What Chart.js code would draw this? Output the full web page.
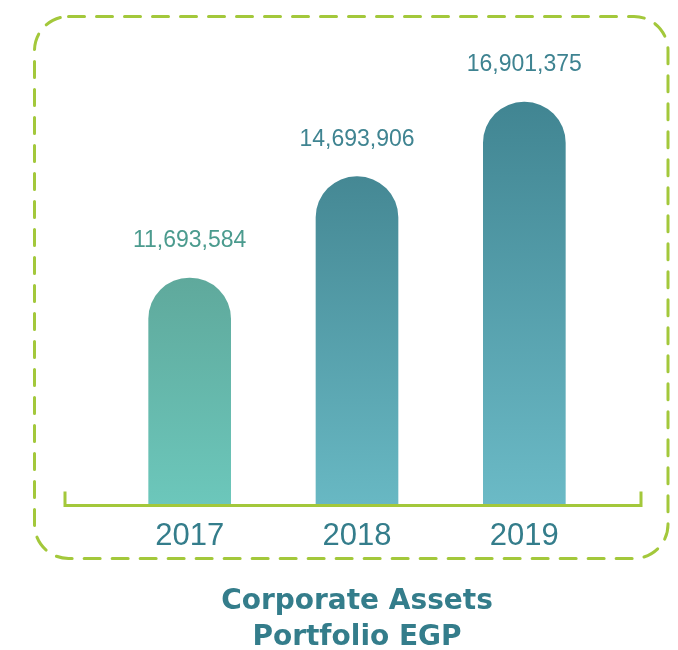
<!DOCTYPE html>
<html>
<head>
<meta charset="utf-8">
<script src="https://cdn.jsdelivr.net/npm/chart.js@4/dist/chart.umd.min.js"></script>
<style>
  html, body { margin: 0; padding: 0; background: #fff; overflow: hidden; }
  canvas { display: block; }
</style>
</head>
<body>
<canvas id="myChart" width="678" height="670"></canvas>
<script>
const years = ["2017", "2018", "2019"];
const assets = [11693584, 14693906, 16901375];
const titleLines = ["Corporate Assets", "Portfolio EGP"];

// bar gradient colours, top -> bottom
const topColors = ["#5fa99c", "#458894", "#418592"];
const bottomColors = ["#6cc7bb", "#68b8c3", "#6bbac6"];
const labelColors = ["#4b9b8e", "#3f8491", "#3e8391"];

const green = "#a3c83b";
const teal = "#347d8b";

const frame = {
  id: "frame",
  beforeDatasetsDraw(chart) {
    const ctx = chart.ctx;
    ctx.save();
    ctx.strokeStyle = green;
    ctx.lineWidth = 3;
    ctx.lineCap = "round";
    ctx.setLineDash([16, 12]);
    ctx.beginPath();
    ctx.roundRect(34.5, 16.5, 633.5, 542, 34);
    ctx.stroke();
    ctx.restore();
  },
  afterDatasetsDraw(chart) {
    const ctx = chart.ctx;
    const area = chart.chartArea;
    // axis bracket
    ctx.save();
    ctx.strokeStyle = green;
    ctx.lineWidth = 3;
    ctx.lineCap = "butt";
    ctx.beginPath();
    const y = area.bottom + 1.5;
    ctx.moveTo(area.left - 41, y - 14);
    ctx.lineTo(area.left - 41, y);
    ctx.lineTo(area.right + 33, y);
    ctx.lineTo(area.right + 33, y - 14);
    ctx.stroke();

    // value labels above bars
    const meta = chart.getDatasetMeta(0);
    ctx.font = "23px 'Liberation Sans', Arial, sans-serif";
    ctx.textAlign = "center";
    ctx.textBaseline = "middle";
    meta.data.forEach(function (bar, i) {
      ctx.fillStyle = labelColors[i];
      ctx.fillText(assets[i].toLocaleString("en-US"), bar.x, bar.y - 37);
    });
    ctx.restore();
  },
};

function barFill(context) {
  const chart = context.chart;
  const i = context.dataIndex;
  const area = chart.chartArea;
  if (!area) {
    return topColors[i];
  }
  const top = chart.scales.y.getPixelForValue(assets[i]);
  const g = chart.ctx.createLinearGradient(0, top, 0, area.bottom);
  g.addColorStop(0, topColors[i]);
  g.addColorStop(1, bottomColors[i]);
  return g;
}

const ctx = document.getElementById("myChart").getContext("2d");
const myChart = new Chart(ctx, {
  type: "bar",
  data: {
    labels: years,
    datasets: [
      {
        data: assets,
        backgroundColor: barFill,
        barThickness: 82,
        borderRadius: { topLeft: 41, topRight: 41, bottomLeft: 0, bottomRight: 0 },
        borderSkipped: "bottom",
      },
    ],
  },
  options: {
    responsive: false,
    animation: false,
    layout: {
      padding: { left: 106, right: 70, top: 65, bottom: 14 },
    },
    plugins: {
      legend: { display: false },
      tooltip: { enabled: false },
      title: {
        display: true,
        position: "bottom",
        text: titleLines,
        color: teal,
        font: { family: "'DejaVu Sans', sans-serif", size: 28, weight: "bold", lineHeight: 1.3 },
        padding: { top: 22, bottom: 0 },
      },
    },
    scales: {
      x: {
        grid: { display: false },
        border: { display: false },
        ticks: {
          color: teal,
          padding: 6,
          font: { family: "'Liberation Sans', Arial, sans-serif", size: 31 },
        },
      },
      y: {
        display: false,
        min: 5000000,
        max: 18000000,
      },
    },
  },
  plugins: [frame],
});
</script>
</body>
</html>
